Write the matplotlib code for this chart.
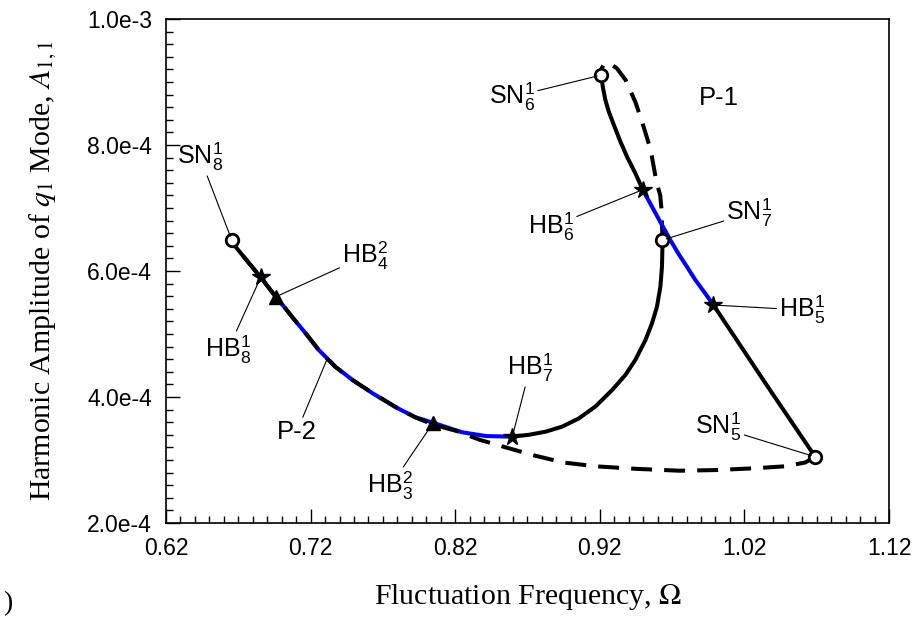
import matplotlib
matplotlib.use("Agg")
import matplotlib.pyplot as plt
from matplotlib.ticker import MultipleLocator

plt.rcParams['font.family'] = ['Liberation Sans', 'DejaVu Sans']
plt.rcParams['mathtext.fontset'] = 'stix'

# ---------------- data (Omega, amplitude) ----------------
# stable branch SN8 -> HB8
stab1_x = [0.6655, 0.6683, 0.6772, 0.6855]
stab1_y = [6.49e-4, 6.38e-4, 6.13e-4, 5.90e-4]
# Hopf-unstable branch HB8 -> HB7 (blue)
hopf1_x = [0.6855, 0.6959, 0.7028, 0.7076, 0.7166, 0.7255, 0.7372, 0.7490, 0.7628,
           0.7786, 0.7924, 0.8048, 0.8248, 0.8414, 0.8595]
hopf1_y = [5.90e-4, 5.59e-4, 5.40e-4, 5.26e-4, 5.01e-4, 4.75e-4, 4.48e-4, 4.27e-4, 4.06e-4,
           3.84e-4, 3.68e-4, 3.59e-4, 3.44e-4, 3.38e-4, 3.37e-4]
# stable branch HB7 -> SN7
stab2_x = [0.8595, 0.8710, 0.8826, 0.8940, 0.9055, 0.9170, 0.9285, 0.9377, 0.9446,
           0.9515, 0.9561, 0.9595, 0.9619, 0.9630, 0.9634]
stab2_y = [3.37e-4, 3.40e-4, 3.45e-4, 3.53e-4, 3.66e-4, 3.85e-4, 4.11e-4, 4.35e-4, 4.59e-4,
           4.90e-4, 5.17e-4, 5.43e-4, 5.75e-4, 6.07e-4, 6.47e-4]
# saddle branch SN7 -> SN6 (dashed)
sad1_x = [0.9634, 0.9627, 0.9618, 0.9593, 0.9552, 0.9503, 0.9448, 0.9379, 0.9317, 0.9262, 0.9234, 0.9214, 0.9210]
sad1_y = [6.47e-4, 6.97e-4, 7.20e-4, 7.40e-4, 7.92e-4, 8.29e-4, 8.67e-4, 9.03e-4, 9.22e-4, 9.30e-4, 9.30e-4, 9.22e-4, 9.11e-4]
# stable branch SN6 -> HB6
stab3_x = [0.9210, 0.9221, 0.9239, 0.9262, 0.9297, 0.9343, 0.9389, 0.9446, 0.9497]
stab3_y = [9.11e-4, 8.92e-4, 8.71e-4, 8.53e-4, 8.32e-4, 8.05e-4, 7.81e-4, 7.55e-4, 7.29e-4]
# Hopf-unstable branch HB6 -> HB5 (blue)
hopf2_x = [0.9497, 0.9561, 0.9630, 0.9688, 0.9745, 0.9802, 0.9860, 0.9924, 0.9986]
hopf2_y = [7.29e-4, 7.02e-4, 6.73e-4, 6.49e-4, 6.27e-4, 6.07e-4, 5.86e-4, 5.66e-4, 5.46e-4]
# stable branch HB5 -> SN5
stab4_x = [0.9986, 1.0345, 1.0690]
stab4_y = [5.46e-4, 4.22e-4, 3.05e-4]
# saddle branch SN5 -> SN8 (dashed)
sad2_x = [1.069, 1.062, 1.048, 1.028, 1.000, 0.975, 0.945, 0.917, 0.895, 0.875, 0.855, 0.837,
          0.821, 0.805, 0.792, 0.779, 0.763, 0.749, 0.737, 0.7255, 0.7166, 0.7076, 0.7028,
          0.6959, 0.6855, 0.6772, 0.6683, 0.6655]
sad2_y = [3.05e-4, 2.96e-4, 2.90e-4, 2.87e-4, 2.84e-4, 2.83e-4, 2.86e-4, 2.90e-4, 2.96e-4, 3.07e-4,
          3.20e-4, 3.32e-4, 3.46e-4, 3.56e-4, 3.68e-4, 3.84e-4, 4.06e-4, 4.27e-4, 4.48e-4, 4.75e-4,
          5.01e-4, 5.26e-4, 5.40e-4, 5.59e-4, 5.90e-4, 6.13e-4, 6.38e-4, 6.49e-4]

# bifurcation points
sn_names = ["SN_8", "SN_7", "SN_6", "SN_5"]
sn_x = [0.6655, 0.9632, 0.9210, 1.069]
sn_y = [6.49e-4, 6.49e-4, 9.11e-4, 3.05e-4]
hb1_names = ["HB_8", "HB_7", "HB_6", "HB_5"]
hb1_x = [0.6855, 0.8595, 0.9497, 0.9986]
hb1_y = [5.90e-4, 3.37e-4, 7.29e-4, 5.46e-4]
hb2_names = ["HB_4", "HB_3"]
hb2_x = [0.6959, 0.8048]
hb2_y = [5.59e-4, 3.59e-4]

xticks = [0.62, 0.72, 0.82, 0.92, 1.02, 1.12]
xtick_labels = ["0.62", "0.72", "0.82", "0.92", "1.02", "1.12"]
yticks = [2e-4, 4e-4, 6e-4, 8e-4, 1e-3]
ytick_labels = ["2.0e-4", "4.0e-4", "6.0e-4", "8.0e-4", "1.0e-3"]

# ---------------- figure ----------------
W, H = 924, 626
fig = plt.figure(figsize=(W / 100, H / 100), dpi=100)
L, R, T, B = 166, 889, 19, 523
ax = fig.add_axes([L / W, 1 - B / H, (R - L) / W, (B - T) / H])

lw = 2.9
dash = (5.2, 3.0)
ax.plot(hopf1_x, hopf1_y, color='#0000ff', lw=lw, solid_capstyle='butt', solid_joinstyle='round', zorder=2)
ax.plot(hopf2_x, hopf2_y, color='#0000ff', lw=lw, solid_capstyle='butt', solid_joinstyle='round', zorder=3)
for xs, ys in [(stab1_x, stab1_y), (stab2_x, stab2_y), (stab3_x, stab3_y), (stab4_x, stab4_y)]:
    ax.plot(xs, ys, color='black', lw=lw, solid_capstyle='butt', solid_joinstyle='round', zorder=2)
for xs, ys in [(sad1_x, sad1_y), (sad2_x, sad2_y)]:
    ax.plot(xs, ys, color='black', lw=lw, linestyle=(0, dash), dash_capstyle='butt',
            dash_joinstyle='round', zorder=2.5)

ax.plot(sn_x, sn_y, linestyle='none', marker='o', ms=9, mfc='white', mec='black', mew=2.0, zorder=5)
ax.plot(hb1_x, hb1_y, linestyle='none', marker='*', ms=13, color='black', zorder=5)
ax.plot(hb2_x, hb2_y, linestyle='none', marker='^', ms=10, color='black', zorder=5)

ax.set_xlim(0.62, 1.12)
ax.set_ylim(2e-4, 1e-3)
ax.set_xticks(xticks, xtick_labels)
ax.set_yticks(yticks, ytick_labels)
ax.xaxis.set_minor_locator(MultipleLocator(0.01))
ax.yaxis.set_minor_locator(MultipleLocator(2e-5))
ax.tick_params(which='both', direction='in', top=False, right=False, labelsize=16.5, width=1.0)
ax.tick_params(which='major', length=10, pad=10)
ax.tick_params(which='minor', length=5)
for s in ax.spines.values():
    s.set_linewidth(1.2)

ax.set_xlabel("Fluctuation Frequency, $\\Omega$", family='Liberation Serif', fontsize=21.5, labelpad=16)
ax.set_ylabel("Harmonic Amplitude of $q_1$ Mode, $A_{1,1}$", family='Liberation Serif', fontsize=21.5,
              labelpad=20)


def px2d(x, y):
    return 0.62 + (x - L) / 1450.0, 2e-4 + (B - y) / 630000.0


def lab(base, sub, sup):
    return base + "$_{\\mathregular{%s}}^{\\mathregular{%s}}$" % (sub, sup)


ann = [
    ("SN", "8", "1", (sn_x[0], sn_y[0]), (200, 157)),
    ("HB", "8", "1", (hb1_x[0], hb1_y[0]), (228, 350)),
    ("HB", "4", "2", (hb2_x[0], hb2_y[0]), (366, 256)),
    ("HB", "3", "2", (hb2_x[1], hb2_y[1]), (391, 486)),
    ("HB", "7", "1", (hb1_x[1], hb1_y[1]), (531, 368)),
    ("HB", "6", "1", (hb1_x[2], hb1_y[2]), (552, 227)),
    ("SN", "7", "1", (sn_x[1], sn_y[1]), (751, 213)),
    ("HB", "5", "1", (hb1_x[3], hb1_y[3]), (804, 310)),
    ("SN", "5", "1", (sn_x[3], sn_y[3]), (720, 427)),
    ("SN", "6", "1", (sn_x[2], sn_y[2]), (513, 97)),
]
for base, sub, sup, xy, tp in ann:
    ax.annotate(lab(base, sub, sup), xy=xy, xytext=px2d(*tp), ha='center', va='center',
                fontsize=18, arrowprops=dict(arrowstyle='-', lw=0.8, color='black',
                                             shrinkA=0, shrinkB=3), zorder=6)

ax.annotate("P-2", xy=px2d(328, 358), xytext=px2d(297, 432), ha='center', va='center', fontsize=18.5,
            arrowprops=dict(arrowstyle='-', lw=0.8, color='black', shrinkA=0, shrinkB=0))
ax.text(*px2d(720, 98), "P-1", ha='center', va='center', fontsize=18.5)

fig.text(8 / W, 1 - 604 / H, ")", family='Liberation Serif', fontsize=20, ha='center', va='center')

fig.savefig("out.png", dpi=100)
